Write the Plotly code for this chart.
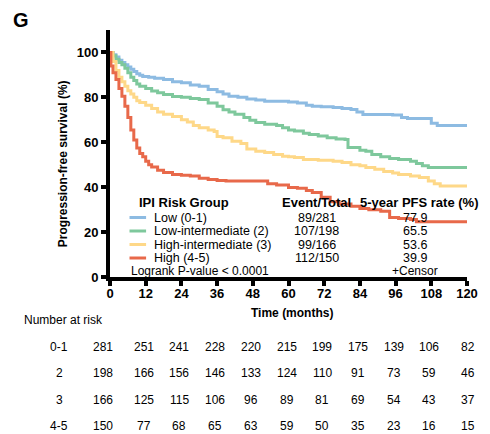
import plotly.graph_objects as go

# Kaplan-Meier progression-free survival by IPI risk group (months, % surviving)
low_t = [0, 1, 2, 3, 4, 5, 6, 7, 8, 9, 10, 11, 13, 15, 18, 21, 24, 27, 30, 33, 36, 38, 40, 43, 46, 49, 52,
         56, 60, 63, 66, 68, 71, 75, 78, 81, 83, 85, 90, 95, 98, 100, 106, 108, 110, 120]
low_s = [100, 99, 98, 96.5, 95.5, 94.5, 93.5, 92.5, 91.5, 90.5, 89.8, 89.3, 89, 88.5, 88, 87, 86.5, 85.5, 85,
         83.5, 82.5, 81.5, 80.5, 80, 79.3, 78.8, 78.3, 78.3, 77.9, 77.5, 76.5, 76, 75.8, 75.5, 75, 74.6, 73.5,
         72.4, 72.4, 72.2, 71, 70.6, 70.6, 68.5, 67.5, 67.3]

lowint_t = [0, 1, 2, 3, 4, 5, 6, 7, 8, 9, 10, 12, 14, 16, 18, 21, 24, 27, 30, 33, 36, 38, 40, 42, 45, 47, 49,
            52, 56, 58, 60, 62, 65, 67, 70, 73, 76, 79, 80, 84, 86, 88, 91, 94, 97, 101, 103, 105, 107, 120]
lowint_s = [100, 98.5, 97, 95.5, 94.5, 93, 91, 89, 87.5, 86, 85, 84, 82.8, 82, 81.3, 80.4, 80, 79.5, 79, 77.5,
            76, 74.5, 73.5, 72.5, 71, 69.8, 68.8, 68, 67.5, 66.5, 65.5, 65, 64, 63.5, 62.8, 62, 61.5, 61.2,
            57.7, 56.5, 56, 54.6, 53.5, 52.8, 52.3, 51.6, 50.5, 49.5, 48.8, 48.8]

highint_t = [0, 1, 2, 3, 4, 5, 6, 7, 8, 9, 10, 12, 14, 16, 18, 21, 24, 26, 28, 30, 33, 35, 36, 38, 41, 44, 46,
             49, 52, 55, 58, 60, 62, 65, 70, 75, 78, 81, 84, 86, 89, 92, 95, 97, 101, 104, 107, 109, 111, 120]
highint_s = [100, 96, 92, 89, 87, 85, 83, 81.5, 80, 78.5, 77.7, 76.5, 75, 73.5, 72.5, 71.5, 70, 69, 67.5, 66.5,
             65.5, 64.8, 62.6, 62, 60.5, 59.5, 57, 56, 55.4, 54.6, 53.8, 53.6, 53.2, 52.3, 52, 51.6, 51, 50,
             49.5, 48.8, 48, 47, 46.3, 45.7, 45, 44.3, 42.7, 41.5, 40.5, 40.3]

high_t = [0, 0.3, 1, 2, 3, 4, 5, 6, 7, 8, 9, 10, 11, 12, 13, 14, 16, 18, 21, 24, 27, 30, 33, 36, 39, 45, 51,
          53, 56, 60, 63, 66, 68, 71, 74, 77, 81, 84, 87, 91, 94, 97, 101, 103, 120]
high_s = [100, 94, 91, 88, 84, 80.5, 76, 71, 65.5, 61, 57.5, 55, 53.5, 51.5, 50, 49, 47.5, 46.5, 45.7, 45.3,
          45, 44, 43.4, 43, 42.7, 42.7, 42.7, 41.5, 41, 39.9, 39.5, 38.5, 37.6, 35.5, 33.5, 32.5, 31.5, 30.5,
          30, 29.3, 26.5, 26, 25.6, 24.6, 24.6]

groups = ["Low (0-1)", "Low-intermediate (2)", "High-intermediate (3)", "High (4-5)"]
colors = ["#8dbbe2", "#7ec89c", "#fed888", "#e8694a"]
event_total = ["89/281", "107/198", "99/166", "112/150"]
pfs_5yr = ["77.9", "65.5", "53.6", "39.9"]

# Number at risk table
risk_times = [0, 12, 24, 36, 48, 60, 72, 84, 96, 108, 120]
risk_labels = ["0-1", "2", "3", "4-5"]
risk_low = [281, 251, 241, 228, 220, 215, 199, 175, 139, 106, 82]
risk_lowint = [198, 166, 156, 146, 133, 124, 110, 91, 73, 59, 46]
risk_highint = [166, 125, 115, 106, 96, 89, 81, 69, 54, 43, 37]
risk_high = [150, 77, 68, 65, 63, 59, 50, 35, 23, 16, 15]

FONT = "Arial, Liberation Sans, sans-serif"
W, H = 490, 434
L, R, T, B = 110, 476, 30, 277  # plot area in pixels


def fx(x):
    return (x - L) / (R - L)


def fy(y):
    return (B - y) / (B - T)


fig = go.Figure()
curves = [(low_t, low_s), (lowint_t, lowint_s), (highint_t, highint_s), (high_t, high_s)]
for (t, s), name, c in zip(curves, groups, colors):
    fig.add_trace(go.Scatter(x=t, y=s, mode="lines", line=dict(color=c, width=3, shape="hv"),
                             name=name, showlegend=False, hoverinfo="skip"))

ann = []
shapes = []

# Panel letter
ann.append(dict(text="<b>G</b>", x=fx(8), y=fy(20), xanchor="left", yanchor="middle",
                font=dict(size=20, color="black")))
# Axis titles
ann.append(dict(text="<b>Progression-free survival (%)</b>", x=fx(62), y=fy(164), textangle=-90,
                xanchor="center", yanchor="middle", font=dict(size=12, color="black")))
ann.append(dict(text="<b>Time (months)</b>", x=fx(297), y=fy(313), xanchor="center", yanchor="middle",
                font=dict(size=12, color="black")))

# Legend table
ann.append(dict(text="<b>IPI Risk Group</b>", x=fx(138), y=fy(202), xanchor="left", yanchor="middle",
                font=dict(size=13, color="black")))
ann.append(dict(text="<b>Event/Total</b>", x=fx(322), y=fy(202), xanchor="center", yanchor="middle",
                font=dict(size=13, color="black")))
ann.append(dict(text="<b>5-year PFS rate (%)</b>", x=fx(427), y=fy(202), xanchor="center", yanchor="middle",
                font=dict(size=13, color="black")))
row_y = [217.5, 231, 244.5, 258]
for i, (g, c, et, p) in enumerate(zip(groups, colors, event_total, pfs_5yr)):
    y = row_y[i]
    shapes.append(dict(type="line", xref="paper", yref="paper", x0=fx(130), x1=fx(147), y0=fy(y), y1=fy(y),
                       line=dict(color=c, width=3)))
    ann.append(dict(text=g, x=fx(153), y=fy(y), xanchor="left", yanchor="middle",
                    font=dict(size=12.5, color="black")))
    ann.append(dict(text=et, x=fx(322), y=fy(y), xanchor="center", yanchor="middle",
                    font=dict(size=12.5, color="black")))
    ann.append(dict(text=p, x=fx(423), y=fy(y), xanchor="center", yanchor="middle",
                    font=dict(size=12.5, color="black")))
ann.append(dict(text="Logrank P-value &lt; 0.0001", x=fx(129), y=fy(270.5), xanchor="left", yanchor="middle",
                font=dict(size=12, color="black")))
ann.append(dict(text="+Censor", x=fx(423), y=fy(270.5), xanchor="center", yanchor="middle",
                font=dict(size=12, color="black")))

# Number at risk
ann.append(dict(text="Number at risk", x=fx(20), y=fy(320), xanchor="left", yanchor="middle",
                font=dict(size=12, color="black")))
risk_rows = [risk_low, risk_lowint, risk_highint, risk_high]
risk_y = [347, 373, 399.5, 426]
for lab, row, y in zip(risk_labels, risk_rows, risk_y):
    ann.append(dict(text=lab, x=fx(58), y=fy(y), xanchor="center", yanchor="middle",
                    font=dict(size=12, color="black")))
    for j, (t, n) in enumerate(zip(risk_times, row)):
        shift = -7 if j == 0 else (1 if j == len(risk_times) - 1 else -2)
        ann.append(dict(text=str(n), x=t, xref="x", y=fy(y), yref="paper", xshift=shift,
                        xanchor="center", yanchor="middle", font=dict(size=12, color="black")))

for a in ann:
    a.setdefault("xref", "paper")
    a.setdefault("yref", "paper")
    a["showarrow"] = False

fig.update_layout(
    width=W, height=H,
    margin=dict(l=L, r=W - R, t=T, b=H - B, pad=0),
    plot_bgcolor="white", paper_bgcolor="white",
    font=dict(family=FONT, color="black"),
    annotations=ann, shapes=shapes,
    xaxis=dict(range=[0, 120], tickvals=risk_times, showline=True, linecolor="black", linewidth=4,
               ticks="outside", ticklen=5, tickwidth=4, tickcolor="black", showgrid=False, zeroline=False,
               ticklabelstandoff=-4,
               tickfont=dict(size=13, weight="bold", color="black")),
    yaxis=dict(range=[0, 110], tickvals=[0, 20, 40, 60, 80, 100], showline=True, linecolor="black",
               linewidth=4, ticks="outside", ticklen=5, tickwidth=4, tickcolor="black", showgrid=False,
               zeroline=False, tickfont=dict(size=13, weight="bold", color="black")),
)

fig.write_html("out.html")
